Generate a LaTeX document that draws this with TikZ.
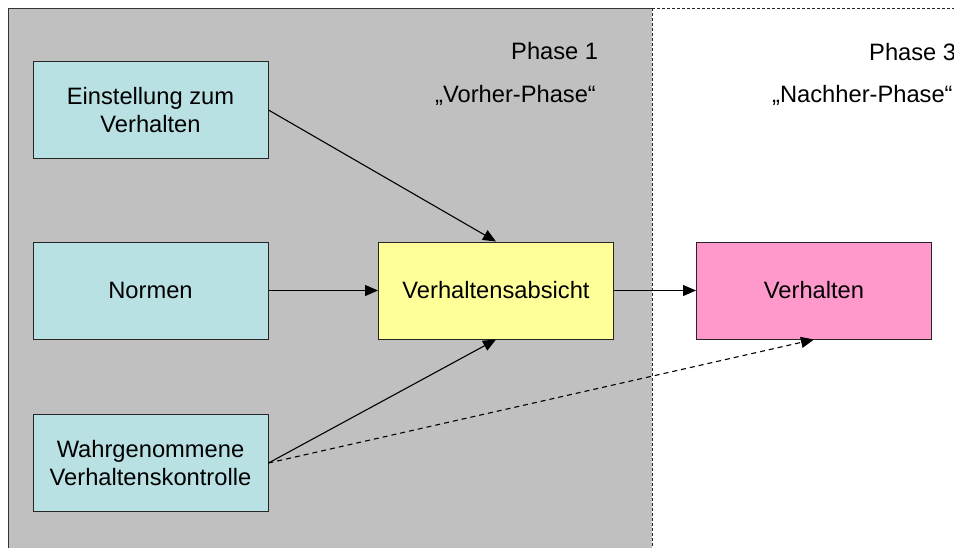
\documentclass[tikz,border=0pt]{standalone}
\usepackage{fontspec}
\setmainfont{Liberation Sans}
\usetikzlibrary{arrows.meta}
\definecolor{boxcyan}{RGB}{185,224,227}
\definecolor{boxyellow}{RGB}{255,255,153}
\definecolor{boxpink}{RGB}{255,153,204}
\definecolor{phasegray}{RGB}{192,192,192}
\tikzset{
  box/.style={draw=black!85, line width=1pt, minimum width=235pt, minimum height=97pt,
    align=center, inner sep=0pt, font=\fontsize{23.7}{28}\selectfont},
  flow/.style={line width=1.1pt, -{Triangle[length=13pt,width=11pt]}},
  dflow/.style={flow, dash pattern=on 5pt off 4pt},
  phasetxt/.style={anchor=base west, inner sep=0pt, font=\fontsize{23.7}{28}\selectfont}
}
\begin{document}
\begin{tikzpicture}[x=1pt,y=-1pt]
\useasboundingbox (0,0) rectangle (954,547);
% phase areas
\fill[phasegray] (8,8) rectangle (652,560);
\draw[black!80, line width=1pt] (8,560) -- (8,8) -- (652,8);
\draw[black!85, line width=0.8pt, dash pattern=on 3pt off 2pt] (652,8) -- (652,560);
\draw[black!85, line width=0.8pt, dash pattern=on 3pt off 2pt] (652,8) -- (960,8);
% phase labels
\node[phasetxt] (p1) at (511,59) {Phase 1};
\node[phasetxt] (p1b) at (435,102) {„Vorher-Phase“};
\node[phasetxt] (p3) at (869,60) {Phase 3};
\node[phasetxt] (p3b) at (772,102) {„Nachher-Phase“};
% boxes
\node[box, fill=boxcyan] (E) at (150.5,110) {Einstellung zum\\Verhalten};
\node[box, fill=boxcyan] (N) at (150.5,290.5) {Normen};
\node[box, fill=boxcyan] (W) at (150.5,463) {Wahrgenommene\\Verhaltenskontrolle};
\node[box, fill=boxyellow] (VA) at (496,290.5) {Verhaltensabsicht};
\node[box, fill=boxpink] (V) at (814,290.5) {Verhalten};
% connectors
\draw[flow] (E.east) -- (VA.north);
\draw[flow] (N.east) -- (VA.west);
\draw[flow] (W.east) -- (VA.south);
\draw[flow] (VA.east) -- (V.west);
\draw[dflow] (W.east) -- (V.south);
\end{tikzpicture}
\end{document}
